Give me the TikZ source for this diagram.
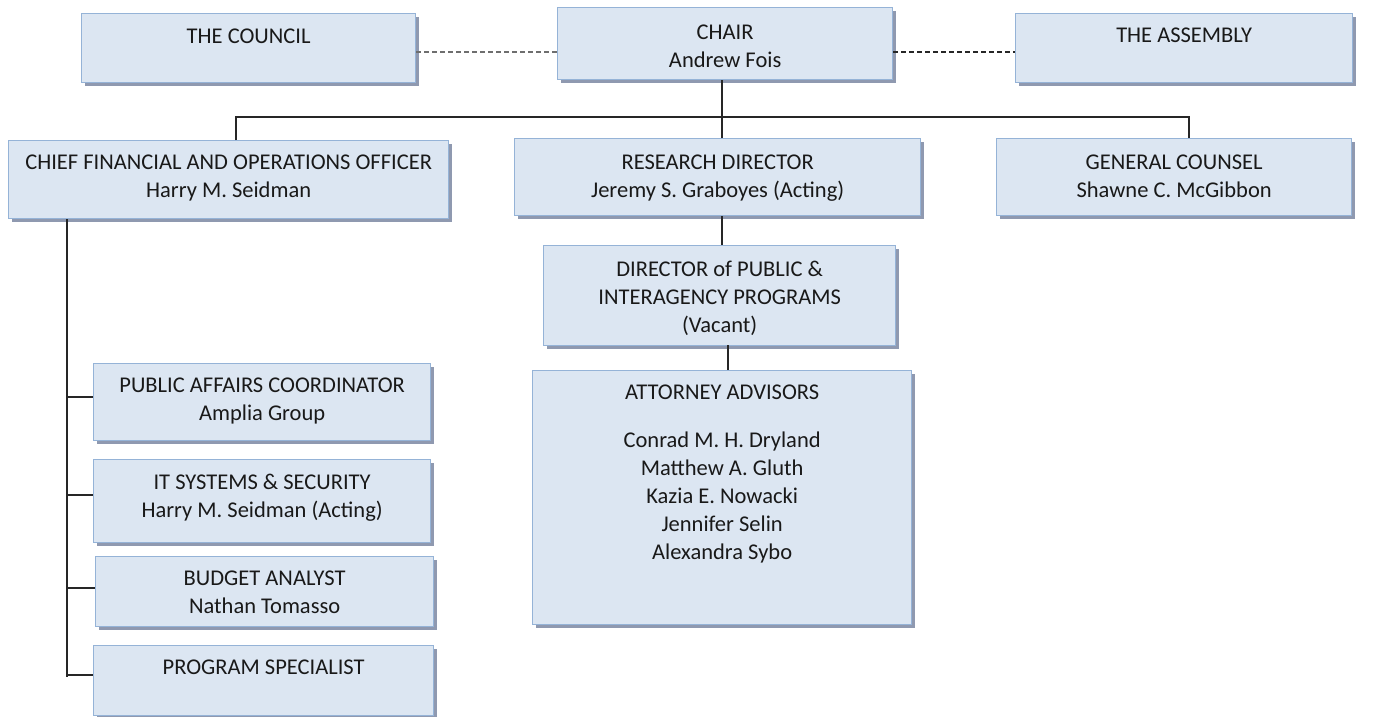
\documentclass[tikz,border=0pt]{standalone}
\usepackage{fontspec}
\setmainfont{Carlito}
\usetikzlibrary{shadows}

\definecolor{boxfill}{RGB}{220,230,242}
\definecolor{boxedge}{RGB}{149,179,215}
\definecolor{boxshade}{RGB}{143,153,176}
\definecolor{linkgrey}{RGB}{110,110,110}

\begin{document}
\begin{tikzpicture}[x=1pt, y=-1pt,
  box/.style={draw=boxedge, fill=boxfill, line width=1.3pt, anchor=north west, inner sep=0pt,
    drop shadow={shadow xshift=3.5pt, shadow yshift=-3.5pt, fill=boxshade, opacity=1}},
  lbl/.style={anchor=north, align=center, inner sep=0pt, text=black!90,
    font=\fontsize{22.5}{28}\selectfont},
  link/.style={draw=black!85, line width=1.7pt},
  tie/.style={line width=1.6pt, dash pattern=on 5pt off 3pt}]

  %% top row
  \node[box, minimum width=334pt, minimum height=69pt] (council) at (81,13) {};
  \node[box, minimum width=335pt, minimum height=72pt] (chair) at (557,7) {};
  \node[box, minimum width=337pt, minimum height=69pt] (assembly) at (1015,13) {};

  %% second row
  \node[box, minimum width=440pt, minimum height=78pt] (cfo) at (8,140) {};
  \node[box, minimum width=406pt, minimum height=77pt] (rd) at (514,138) {};
  \node[box, minimum width=355pt, minimum height=77pt] (gc) at (996,138) {};

  %% under research director
  \node[box, minimum width=352pt, minimum height=100pt] (dpip) at (543,245) {};
  \node[box, minimum width=379pt, minimum height=254pt] (atty) at (532,370) {};

  %% under cfo
  \node[box, minimum width=337pt, minimum height=77pt] (pa) at (93,363) {};
  \node[box, minimum width=337pt, minimum height=83pt] (it) at (93,459) {};
  \node[box, minimum width=338pt, minimum height=70pt] (ba) at (95,556) {};
  \node[box, minimum width=340pt, minimum height=70pt] (ps) at (93,645) {};

  %% texts
  \node[lbl] (councilT) at ([yshift=-15.5pt]council.north) {THE COUNCIL};
  \node[lbl] (chairT) at ([yshift=-17.5pt]chair.north) {CHAIR\\Andrew Fois};
  \node[lbl] (assemblyT) at ([yshift=-14.5pt]assembly.north) {THE ASSEMBLY};
  \node[lbl] (cfoT) at ([yshift=-14.5pt]cfo.north) {CHIEF FINANCIAL AND OPERATIONS OFFICER\\Harry M. Seidman};
  \node[lbl] (rdT) at ([yshift=-16.5pt]rd.north) {RESEARCH DIRECTOR\\Jeremy S. Graboyes (Acting)};
  \node[lbl] (gcT) at ([yshift=-16.5pt]gc.north) {GENERAL COUNSEL\\Shawne C. McGibbon};
  \node[lbl] (dpipT) at ([yshift=-15.5pt]dpip.north) {DIRECTOR of PUBLIC \&\\INTERAGENCY PROGRAMS\\(Vacant)};
  \node[lbl] (attyT) at ([yshift=-14.5pt]atty.north) {ATTORNEY ADVISORS\\[20pt]Conrad M. H. Dryland\\Matthew A. Gluth\\Kazia E. Nowacki\\Jennifer Selin\\Alexandra Sybo};
  \node[lbl] (paT) at ([yshift=-14.5pt]pa.north) {PUBLIC AFFAIRS COORDINATOR\\Amplia Group};
  \node[lbl] (itT) at ([yshift=-14.5pt]it.north) {IT SYSTEMS \& SECURITY\\Harry M. Seidman (Acting)};
  \node[lbl] (baT) at ([yshift=-14.5pt]ba.north) {BUDGET ANALYST\\Nathan Tomasso};
  \node[lbl] (psT) at ([yshift=-14.5pt]ps.north) {PROGRAM SPECIALIST};

  %% dashed ties
  \draw[tie, draw=linkgrey] (council.east |- 0,52) -- (chair.west |- 0,52);
  \draw[tie, draw=black!85] (chair.east |- 0,52) -- (assembly.west |- 0,52);

  %% chair bus
  \coordinate (busL) at (236,117);
  \coordinate (busR) at (1189,117);
  \coordinate (busM) at (722,117);
  \draw[link] (busL |- cfo.north) -- (busL) -- (busR) -- (busR |- gc.north);
  \draw[link] (busM |- chair.south) -- (busM |- rd.north);

  %% research chain
  \draw[link] (busM |- rd.south) -- (busM |- dpip.north);
  \draw[link] (728,345) -- (atty.north -| 728,0);

  %% cfo spine
  \coordinate (spine) at (67,677);
  \draw[link] (spine |- cfo.south) -- (spine);
  \foreach \y/\n in {397/pa, 495/it, 588/ba, 675/ps}
    \draw[link] (67,\y) -- (\n.west |- 0,\y);

  \pgfresetboundingbox
  \path[use as bounding box] (0,0) rectangle (1384,717);
\end{tikzpicture}
\end{document}
